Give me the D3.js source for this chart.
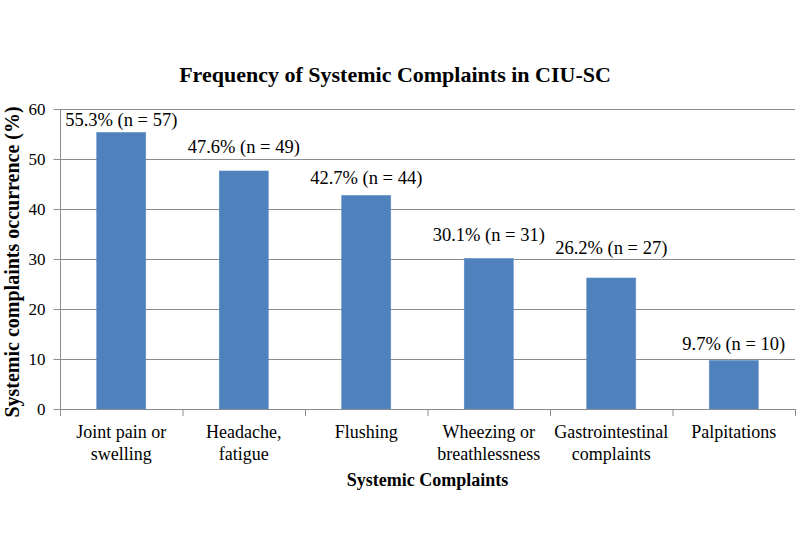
<!DOCTYPE html>
<html>
<head>
<meta charset="utf-8">
<script src="https://cdn.jsdelivr.net/npm/d3@7"></script>
<style>
  html, body { margin: 0; padding: 0; background: #fff; }
  svg { display: block; }
</style>
</head>
<body>
<svg id="chart" width="800" height="554"></svg>
<script>
const categories = [
  ["Joint pain or", "swelling"],
  ["Headache,", "fatigue"],
  ["Flushing"],
  ["Wheezing or", "breathlessness"],
  ["Gastrointestinal", "complaints"],
  ["Palpitations"]
];
const values = [55.3, 47.6, 42.7, 30.1, 26.2, 9.7];
const counts = [57, 49, 44, 31, 27, 10];
// value (in axis units) at which each data label's baseline sits, as placed in the original
const labelAt = [56.6, 51.2, 45.0, 33.6, 31.0, 11.8];
const yTicks = [0, 10, 20, 30, 40, 50, 60];
const title = "Frequency of Systemic Complaints in CIU-SC";
const xTitle = "Systemic Complaints";
const yTitle = "Systemic complaints occurrence (%)";

const FONT = "'Liberation Serif', 'DejaVu Serif', serif";
const svg = d3.select("#chart");
const m = { left: 60, right: 795, top: 109, bottom: 409 };

const x = d3.scaleBand()
  .domain(d3.range(categories.length))
  .range([m.left, m.right])
  .paddingInner(0.6)
  .paddingOuter(0.3);

const y = d3.scaleLinear().domain([0, 60]).range([m.bottom, m.top]);

const gridColor = "#8c8c8c";

// gridlines
svg.append("g").selectAll("line").data(yTicks.filter(t => t > 0)).join("line")
  .attr("x1", m.left).attr("x2", m.right)
  .attr("y1", d => y(d) + 0.5).attr("y2", d => y(d) + 0.5)
  .attr("stroke", gridColor).attr("stroke-width", 1);

// bars
svg.append("g").selectAll("rect").data(values).join("rect")
  .attr("x", (d, i) => x(i))
  .attr("y", d => y(d))
  .attr("width", x.bandwidth())
  .attr("height", d => y(0) - y(d))
  .attr("fill", "#4f81bd")
  .attr("stroke", "#5b8cc6")
  .attr("stroke-width", 0.6);

// y axis
const yAxis = d3.axisLeft(y).tickValues(yTicks).tickSize(7).tickPadding(8).tickFormat(d3.format("d"));
const gy = svg.append("g").attr("transform", `translate(${m.left + 0.5},0)`).call(yAxis)
  .attr("font-family", null).attr("font-size", null);
gy.select(".domain").attr("stroke", gridColor).attr("d", `M0,${m.top}V${m.bottom}`);
gy.selectAll(".tick line").attr("stroke", gridColor);
gy.selectAll(".tick text").style("font-family", FONT).style("font-size", "17px").attr("fill", "#000");

// x axis (category boundaries ticks)
const bounds = d3.range(categories.length + 1).map(i => m.left + i * x.step());
svg.append("line")
  .attr("x1", m.left).attr("x2", m.right)
  .attr("y1", m.bottom + 0.5).attr("y2", m.bottom + 0.5)
  .attr("stroke", gridColor);
svg.append("g").selectAll("line").data(bounds).join("line")
  .attr("x1", d => d + 0.5).attr("x2", d => d + 0.5)
  .attr("y1", m.bottom).attr("y2", m.bottom + 7)
  .attr("stroke", gridColor);

// category labels
const cat = svg.append("g").selectAll("text").data(categories).join("text")
  .attr("text-anchor", "middle")
  .style("font-family", FONT).style("font-size", "18px")
  .attr("x", (d, i) => x(i) + x.bandwidth() / 2)
  .attr("y", 438);
cat.selectAll("tspan").data(d => d).join("tspan")
  .attr("x", function () { return d3.select(this.parentNode).attr("x"); })
  .attr("dy", (d, j) => j === 0 ? 0 : 21.5)
  .text(d => d);

// data labels
svg.append("g").selectAll("text").data(values).join("text")
  .attr("text-anchor", "middle")
  .style("font-family", FONT).style("font-size", "18.5px")
  .attr("x", (d, i) => x(i) + x.bandwidth() / 2)
  .attr("y", (d, i) => y(labelAt[i]))
  .text((d, i) => `${d.toFixed(1)}% (n = ${counts[i]})`);

// titles
svg.append("text")
  .attr("x", 395).attr("y", 82)
  .attr("text-anchor", "middle")
  .style("font-family", FONT).style("font-size", "22px").style("font-weight", "bold")
  .text(title);

svg.append("text")
  .attr("x", (m.left + m.right) / 2).attr("y", 486)
  .attr("text-anchor", "middle")
  .style("font-family", FONT).style("font-size", "18px").style("font-weight", "bold")
  .text(xTitle);

svg.append("text")
  .attr("transform", `translate(19,262) rotate(-90)`)
  .attr("text-anchor", "middle")
  .style("font-family", FONT).style("font-size", "20px").style("font-weight", "bold")
  .text(yTitle);
</script>
</body>
</html>
